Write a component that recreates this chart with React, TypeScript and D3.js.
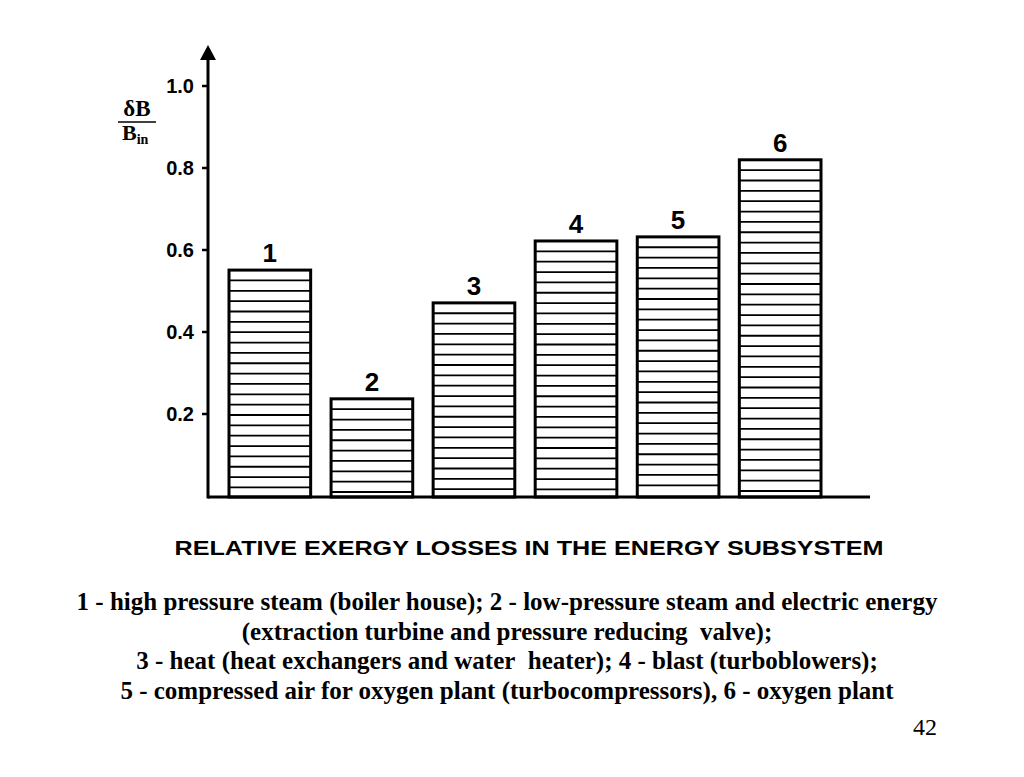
import React from "react";
import * as d3 from "d3";

const categories = ["1", "2", "3", "4", "5", "6"];
const values = [0.551, 0.237, 0.471, 0.622, 0.632, 0.82];
const yTicks = [0.2, 0.4, 0.6, 0.8, 1.0];
const title = "RELATIVE EXERGY LOSSES IN THE ENERGY SUBSYSTEM";
const captionLines = [
  "1 - high pressure steam (boiler house); 2 - low-pressure steam and electric energy",
  "(extraction turbine and pressure reducing\u00a0 valve);",
  "3 - heat (heat exchangers and water\u00a0 heater); 4 - blast (turboblowers);",
  "5 - compressed air for oxygen plant (turbocompressors), 6 - oxygen plant",
];
const pageNumber = "42";

const W = 1024;
const H = 777;
const axisX = 208;
const baseY = 497;

export default function App() {
  const x = d3.scaleBand<string>().domain(categories).range([229, 821]).paddingInner(0.2).paddingOuter(0);
  const y = d3.scaleLinear().domain([0, 1]).range([496, 86]);
  const hatchStep = 10.35;

  return (
    <svg width={W} height={H} style={{ position: "absolute", left: 0, top: 0, background: "#fff" }}>
      {/* bars */}
      {categories.map((c, i) => {
        const x0 = x(c)!;
        const bw = x.bandwidth();
        const top = y(values[i]);
        const lines = d3.range(top + hatchStep, baseY - 2, hatchStep);
        return (
          <g key={c}>
            <rect x={x0} y={top} width={bw} height={baseY - top} fill="#fff" stroke="#000" strokeWidth={3} />
            {lines.map((ly, k) => (
              <line key={k} x1={x0} x2={x0 + bw} y1={ly} y2={ly} stroke="#000" strokeWidth={1.8} />
            ))}
            <text
              x={x0 + bw / 2}
              y={top - 8}
              textAnchor="middle"
              fontFamily="Liberation Sans, Arial, sans-serif"
              fontWeight="bold"
              fontSize={26}
              fill="#000"
            >
              {c}
            </text>
          </g>
        );
      })}

      {/* baseline */}
      <line x1={axisX} x2={870} y1={baseY} y2={baseY} stroke="#000" strokeWidth={3} />
      {/* y axis */}
      <line x1={axisX} x2={axisX} y1={baseY + 1.5} y2={55} stroke="#000" strokeWidth={3} />
      <path d={`M${axisX},45 L${axisX - 8},60 L${axisX + 8},60 Z`} fill="#000" />
      {yTicks.map((t) => (
        <g key={t}>
          <line x1={axisX - 6} x2={axisX} y1={y(t)} y2={y(t)} stroke="#000" strokeWidth={2.5} />
          <text
            x={axisX - 14}
            y={y(t) + 7}
            textAnchor="end"
            fontFamily="Liberation Sans, Arial, sans-serif"
            fontWeight="bold"
            fontSize={20}
            fill="#000"
          >
            {t.toFixed(1)}
          </text>
        </g>
      ))}

      {/* y label: δB / B_in */}
      <text x={137} y={116} textAnchor="middle" fontFamily="Liberation Serif, Times New Roman, serif" fontWeight="bold" fontSize={23} fill="#000">
        δB
      </text>
      <line x1={118} x2={156} y1={122} y2={122} stroke="#000" strokeWidth={1.5} />
      <text x={122} y={140} fontFamily="Liberation Serif, Times New Roman, serif" fontWeight="bold" fontSize={22} fill="#000">
        B
        <tspan fontSize={14} dy={4}>in</tspan>
      </text>

      {/* title */}
      <text
        x={529}
        y={555}
        textAnchor="middle"
        fontFamily="Liberation Sans, Arial, sans-serif"
        fontWeight="bold"
        fontSize={21}
        textLength={709}
        lengthAdjust="spacingAndGlyphs"
        fill="#000"
      >
        {title}
      </text>

      {/* caption */}
      {captionLines.map((l, i) => (
        <text
          key={i}
          x={507}
          y={610 + i * 29.7}
          textAnchor="middle"
          fontFamily="Liberation Serif, Times New Roman, serif"
          fontWeight="bold"
          fontSize={25}
          fill="#000"
          style={{ whiteSpace: "pre" }}
        >
          {l}
        </text>
      ))}

      <text x={937} y={735} textAnchor="end" fontFamily="Liberation Serif, Times New Roman, serif" fontSize={24} fill="#000">
        {pageNumber}
      </text>
    </svg>
  );
}
